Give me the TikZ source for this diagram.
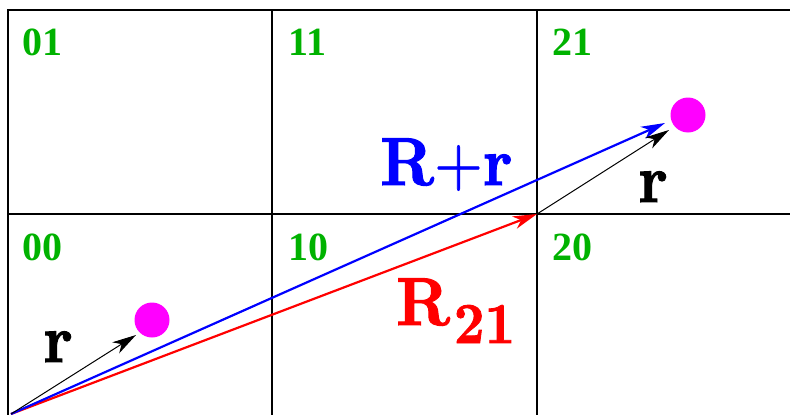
\documentclass[tikz,border=0pt]{standalone}
\usepackage{fontspec}
\newfontfamily\labfont{Liberation Serif}
\newfontfamily\cmb{lmroman10-bold.otf}[FakeBold=1.5]
\newfontfamily\cmr{lmroman10-regular.otf}[FakeBold=1.0]
\usetikzlibrary{arrows.meta}
\definecolor{cellgreen}{RGB}{0,178,0}
\definecolor{pmag}{RGB}{255,0,255}
\tikzset{
  gridline/.style={line width=2pt, black},
  cell/.style={anchor=base west, inner sep=0pt, text=cellgreen, font=\labfont\bfseries\fontsize{40}{40}\selectfont},
  particle/.style={circle, fill=pmag, draw=none, minimum size=35pt, inner sep=0pt},
  tip/.style={-{Stealth[length=24pt,width=13pt,inset=7pt]}},
  rvec/.style={tip, line width=1pt, black},
  bigvec/.style={tip, line width=2.2pt},
  mlabel/.style={inner sep=0pt, xscale=0.92, font=\cmb\fontsize{68}{68}\selectfont}
}
\begin{document}
\begin{tikzpicture}[x=1pt,y=-1pt]
\useasboundingbox (0,0) rectangle (790,415);
% grid
\draw[gridline] (7.5,415) -- (7.5,10) -- (790,10);
\draw[gridline] (7.5,214) -- (790,214);
\draw[gridline] (272,10) -- (272,415);
\draw[gridline] (537,10) -- (537,415);
% cell labels
\node[cell] (l01) at (22,55) {01};
\node[cell] (l11) at (288,55) {11};
\node[cell] (l21) at (552,55) {21};
\node[cell] (l00) at (22,260) {00};
\node[cell] (l10) at (288,260) {10};
\node[cell] (l20) at (552,260) {20};
% points
\coordinate (O) at (11,414);
\coordinate (C20) at (537,214);
\coordinate (t1) at (136,335);
\coordinate (t2) at (669,130);
\coordinate (tb) at (665,123);
\node[particle] (p1) at (152,320) {};
\node[particle] (p2) at (688,115) {};
% vectors
\draw[bigvec, red] (O) -- (C20);
\draw[bigvec, blue] (O) -- (tb);
\draw[rvec] (O) -- (t1);
\draw[rvec] (C20) -- (t2);
% labels
\node[mlabel, anchor=base west, text=blue] (lRr) at (380,185) {R{\cmr+}r};
\node[mlabel, anchor=base west, text=red] (lR21) at (396,325) {R\kern4pt\raisebox{-18pt}{\fontsize{58}{58}\selectfont 21}};
\node[mlabel, anchor=base] (lr1) at (58,362) {r};
\node[mlabel, anchor=base] (lr2) at (653,202) {r};
\end{tikzpicture}
\end{document}
